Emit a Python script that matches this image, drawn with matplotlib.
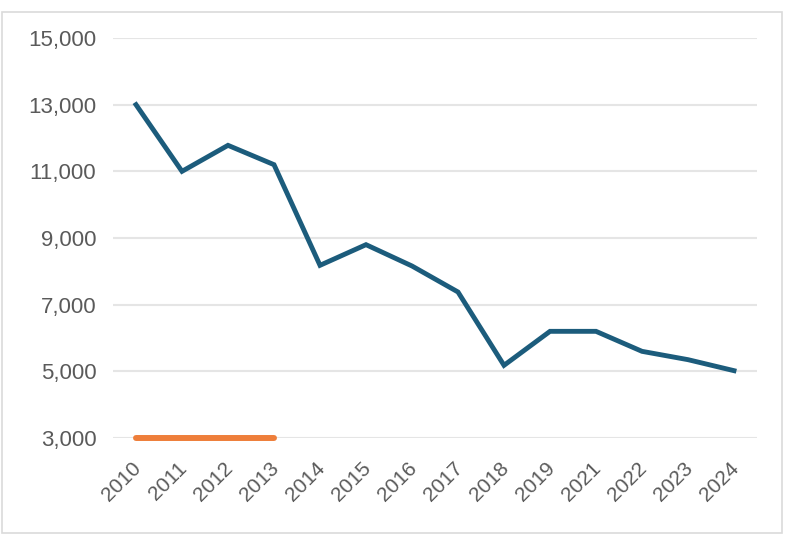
import matplotlib
matplotlib.use("Agg")
import matplotlib.pyplot as plt
from matplotlib.patches import Rectangle
from matplotlib.ticker import FuncFormatter
from matplotlib.transforms import ScaledTranslation

years = ["2010", "2011", "2012", "2013", "2014", "2015", "2016", "2017",
         "2018", "2019", "2021", "2022", "2023", "2024"]
values = [13000, 11000, 11780, 11200, 8180, 8800, 8160, 7380,
          5180, 6200, 6200, 5600, 5350, 5020]
orange_years = ["2010", "2011", "2012", "2013"]
orange_values = [3000, 3000, 3000, 3000]
y_ticks = [3000, 5000, 7000, 9000, 11000, 13000, 15000]

plt.rcParams['font.family'] = ['Liberation Sans', 'DejaVu Sans']

fig = plt.figure(figsize=(7.88, 5.56), dpi=100)
fig.patch.set_facecolor("white")
fig.patches.append(Rectangle((2/788, 1-533/556), 780/788, 521/556,
                             transform=fig.transFigure, fill=False,
                             edgecolor="#DADADA", linewidth=1.2))

ax = fig.add_axes([113/788, 1-438/556, 644/788, 400/556])
x = list(range(len(years)))
xo = [years.index(y) for y in orange_years]

ax.plot(x, values, color="#1C5C7C", linewidth=3.5, solid_joinstyle="miter",
        zorder=3)
ax.plot(xo, orange_values, color="#EE7E3A", linewidth=4.3,
        solid_capstyle="round", clip_on=False, zorder=4)

ax.set_xlim(-0.5, len(years) - 0.5)
ax.set_ylim(3000, 15000)
ax.set_yticks(y_ticks)
ax.yaxis.set_major_formatter(FuncFormatter(lambda v, p: f"{int(v):,}"))
ax.set_xticks(x)
ax.set_xticklabels(years, rotation=45, ha="right", rotation_mode="anchor")

ax.grid(axis="y", color="#E5E5E5", linewidth=1.5)
ax.set_axisbelow(True)
for s in ax.spines.values():
    s.set_visible(False)
ax.tick_params(axis="both", length=0, colors="#5A5A5A")
ax.tick_params(axis="y", pad=12, labelsize=16)
ax.tick_params(axis="x", pad=15, labelsize=15)
offset = ScaledTranslation(-5/100, 0, fig.dpi_scale_trans)
for lbl in ax.get_xticklabels():
    lbl.set_transform(lbl.get_transform() + offset)

fig.savefig("out.png", dpi=100)
